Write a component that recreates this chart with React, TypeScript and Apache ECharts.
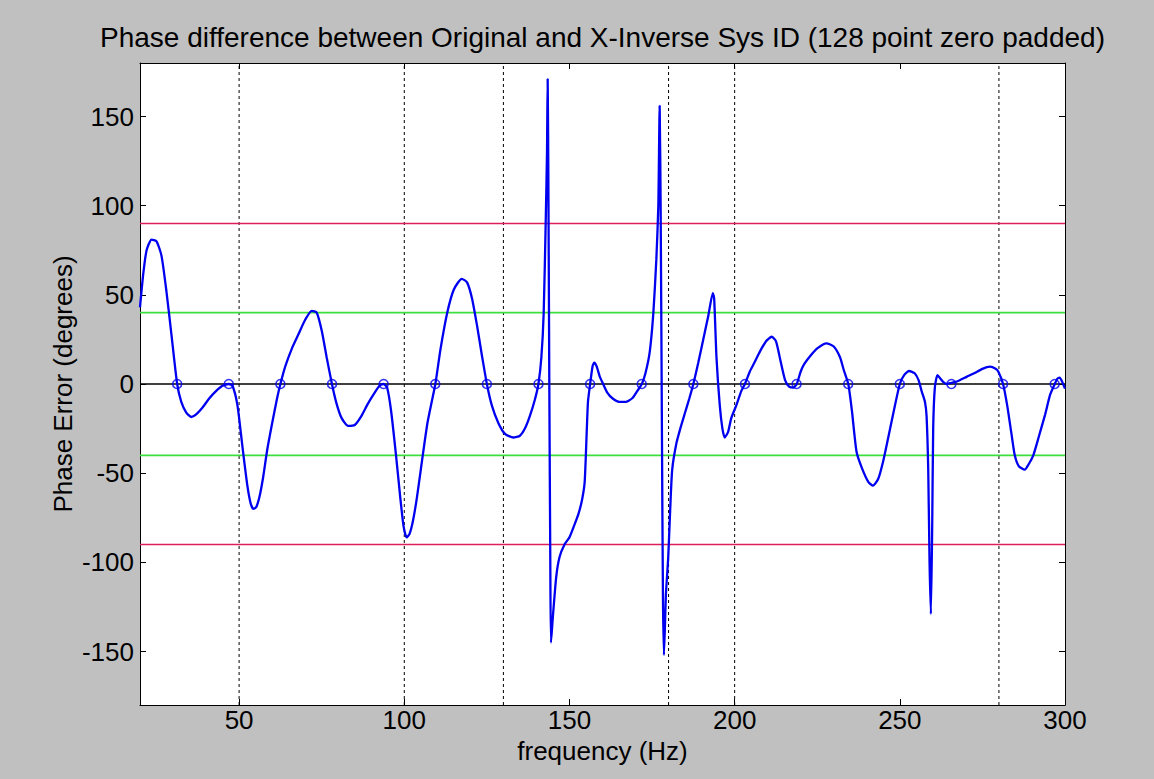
import React, { useEffect, useRef } from "react";
import * as echarts from "echarts";

// Phase error trace (Hz, degrees)
const freqHz = [
  20, 21, 22, 23.5, 25, 26.5, 28, 29.5, 31.25, 32.5, 34, 35.5, 37, 39, 41, 43, 45, 46.9, 48, 49.5,
  51, 52.5, 53.5, 54.3, 55.2, 56.2, 57.3, 58.5, 60, 61.5, 62.5, 64, 66, 68, 70, 72, 73.5, 75, 76.5, 78.1,
  79.5, 81, 83, 85, 87, 89, 91, 92.5, 93.75, 94.8, 96, 97.5, 98.8, 99.8, 100.7, 101.6, 102.6, 103.8, 105, 107,
  109.4, 111, 113, 115, 117.4, 119, 120.5, 122, 123.5, 125, 126.5, 128.5, 130.5, 133, 135, 136.5, 138, 139.5, 140.6, 141.5,
  142.2, 142.8, 143.2, 143.4, 143.6, 143.9, 144.2, 144.4, 145, 146, 147, 148.5, 150, 151.5, 152.7, 153.8, 154.6, 155.2, 155.6, 156.25,
  157, 157.5, 158.2, 159.2, 160.2, 161.5, 163, 165, 167, 169, 170.5, 171.9, 173, 174.3, 175.4, 176.3, 176.9, 177.3, 177.6, 178,
  178.3, 178.6, 179.2, 179.9, 180.5, 181.1, 182.4, 183.7, 185, 186.3, 187.5, 189, 190.5, 192, 193.4, 193.8, 194.5, 195.5, 196.3, 197,
  198, 199, 200.5, 202, 203.1, 204.6, 206, 207.6, 209.5, 211.2, 212.5, 214, 215.3, 216.5, 217.8, 218.8, 220, 221, 223, 225,
  227.8, 230, 231.9, 233, 234.4, 235.5, 236.9, 238.5, 240.5, 241.9, 243.5, 245, 246.5, 248.3, 250, 251.3, 252.8, 254.5, 255.7, 256.6,
  257.6, 258.1, 258.6, 259, 259.4, 259.8, 260.1, 260.6, 261.4, 262.3, 263.2, 264.2, 265.2, 266.5, 268, 270.2, 272.5, 275, 277.3, 279,
  279.8, 281.25, 282.5, 283.8, 284.8, 286, 287.8, 289, 290.4, 292, 294, 295.5, 296.9, 297.7, 298.4, 299.2, 300,
];
const phaseDeg = [
  43, 62, 75, 81, 80, 72, 52, 28, 0, -10, -16, -18.5, -17, -13, -8, -4, -1, 0, -1, -12,
  -35, -57, -67, -70, -69, -63, -52, -37, -22, -8, 0, 10, 20, 28, 36, 41, 40, 30, 15, 0,
  -11, -19, -23.5, -23, -18, -11, -5, -1, 0, -2, -15, -40, -64, -80, -86, -84, -77, -64, -48, -22,
  0, 20, 40, 53, 59, 57, 48, 33, 16, 0, -12, -22, -28, -30, -29, -25, -18, -9, 0, 15,
  40, 90, 130, 171, 120, 0, -100, -145, -130, -108, -97, -90, -86, -79, -73, -65, -55, -28, -10, 0,
  10, 12, 10, 4, 0, -5, -8, -10, -10, -8, -4, 0, 6, 18, 40, 70, 100, 156, 100, -30,
  -120, -152, -118, -97, -70, -48, -33, -24, -16, -8, 0, 12, 25, 38, 51, 48, 15, -12, -25, -30,
  -27, -19, -12, -4, 0, 7, 12, 18, 24, 26.5, 24, 12, 2, -1.5, -2, 0, 7, 11, 16, 20,
  22.8, 21, 15, 8, 0, -15, -38, -47, -55, -57, -53, -43, -30, -14, 0, 5, 7.3, 6, 2, -4,
  -10, -18, -48, -100, -129, -80, -25, -2, 5, 3, 1, 0, 0.5, 1, 2, 4, 6, 8.5, 9.7, 8.5,
  7, 0, -12, -28, -40, -46, -48, -45, -40, -30, -17, -6, 0, 3, 3.6, 1, -2.6,
];

// FFT bin centres marked on the zero line
const binHz = [
  31.25, 46.875, 62.5, 78.125, 93.75, 109.375, 125, 140.625, 156.25, 171.875, 187.5, 203.125,
  218.75, 234.375, 250, 265.625, 281.25, 296.875,
];
const binDeg = [0, 0, 0, 0, 0, 0, 0, 0, 0, 0, 0, 0, 0, 0, 0, 0, 0, 0];

// Reference levels and dotted markers
const limitDeg = [90, -90];
const warnDeg = [40, -40];
const dottedHz = [50, 100, 130, 180, 200, 280];

const xTicks = [50, 100, 150, 200, 250, 300];
const yTicks = [-150, -100, -50, 0, 50, 100, 150];
const X_MIN = 20;
const X_MAX = 300;
const Y_MIN = -180;
const Y_MAX = 180;

const TITLE = "Phase difference between Original and X-Inverse Sys ID (128 point zero padded)";
const FONT = "'Liberation Sans', Arial, Helvetica, sans-serif";

const hSeries = (v: number, color: string, width: number) => ({
  type: "line" as const,
  data: [
    [X_MIN, v],
    [X_MAX, v],
  ],
  showSymbol: false,
  silent: true,
  z: 1,
  lineStyle: { color, width, type: "solid" as const },
});

const vSeries = (v: number) => ({
  type: "line" as const,
  data: [
    [v, Y_MIN],
    [v, Y_MAX],
  ],
  showSymbol: false,
  silent: true,
  z: 1,
  lineStyle: { color: "#000", width: 1, type: [3, 3] as number[] },
});

export default function App() {
  const ref = useRef<HTMLDivElement>(null);

  useEffect(() => {
    if (!ref.current) return;
    const chart = echarts.init(ref.current, null, { renderer: "svg" });

    const gridLeft = 140;
    const gridTop = 63;
    const gridRight = 1065;
    const gridBottom = 705;

    const tickStyle = { show: true, inside: true, length: 6, lineStyle: { color: "#000", width: 1 } };
    const lineStyle = { show: true, onZero: false, lineStyle: { color: "#000", width: 1 } };

    chart.setOption({
      animation: false,
      backgroundColor: "#c0c0c0",
      textStyle: { fontFamily: FONT },
      grid: {
        left: gridLeft,
        top: gridTop,
        width: gridRight - gridLeft,
        height: gridBottom - gridTop,
        backgroundColor: "#ffffff",
        show: true,
        borderWidth: 0,
      },
      graphic: [
        {
          type: "text",
          x: (gridLeft + gridRight) / 2,
          y: 37,
          style: {
            text: TITLE,
            textAlign: "center",
            textVerticalAlign: "middle",
            font: `28px ${FONT}`,
            fill: "#000",
          },
        },
      ],
      xAxis: [
        {
          type: "value",
          min: X_MIN,
          max: X_MAX,
          position: "bottom",
          axisLine: lineStyle,
          axisTick: { ...tickStyle, customValues: xTicks },
          axisLabel: {
            customValues: xTicks,
            fontSize: 26,
            lineHeight: 20,
            color: "#000",
            margin: 5,
            fontFamily: FONT,
          },
          splitLine: { show: false },
          name: "frequency (Hz)",
          nameLocation: "middle",
          nameGap: 36,
          nameMoveOverlap: false,
          nameTextStyle: { fontSize: 26, lineHeight: 20, color: "#000", fontFamily: FONT },
        },
        {
          type: "value",
          min: X_MIN,
          max: X_MAX,
          position: "top",
          axisLine: lineStyle,
          axisTick: { ...tickStyle, customValues: xTicks },
          axisLabel: { show: false },
          splitLine: { show: false },
        },
      ],
      yAxis: [
        {
          type: "value",
          min: Y_MIN,
          max: Y_MAX,
          position: "left",
          axisLine: lineStyle,
          axisTick: { ...tickStyle, customValues: yTicks },
          axisLabel: {
            customValues: yTicks,
            fontSize: 26,
            color: "#000",
            margin: 6,
            fontFamily: FONT,
          },
          splitLine: { show: false },
          name: "Phase Error (degrees)",
          nameLocation: "middle",
          nameGap: 64,
          nameMoveOverlap: false,
          nameTextStyle: { fontSize: 26, color: "#000", fontFamily: FONT },
        },
        {
          type: "value",
          min: Y_MIN,
          max: Y_MAX,
          position: "right",
          axisLine: lineStyle,
          axisTick: { ...tickStyle, customValues: yTicks },
          axisLabel: { show: false },
          splitLine: { show: false },
        },
      ],
      series: [
        ...dottedHz.map((v) => vSeries(v)),
        ...limitDeg.map((v) => hSeries(v, "#dc1e5a", 1.6)),
        ...warnDeg.map((v) => hSeries(v, "#3ce03c", 1.6)),
        hSeries(0, "#000000", 1.6),
        {
          name: "phase error",
          type: "line",
          data: freqHz.map((f, i) => [f, phaseDeg[i]]),
          showSymbol: false,
          smooth: 0.2,
          lineStyle: { color: "#0000f0", width: 2.3 },
          z: 3,
          silent: true,
        },
        {
          name: "bins",
          type: "scatter",
          data: binHz.map((f, i) => [f, binDeg[i]]),
          symbol: "circle",
          symbolSize: 9,
          itemStyle: { color: "rgba(0,0,0,0)", borderColor: "#0000f0", borderWidth: 1.6 },
          z: 4,
          silent: true,
        },
      ],
    });

    return () => chart.dispose();
  }, []);

  return (
    <div
      ref={ref}
      style={{ position: "fixed", left: 0, top: 0, width: 1154, height: 779 }}
    />
  );
}
